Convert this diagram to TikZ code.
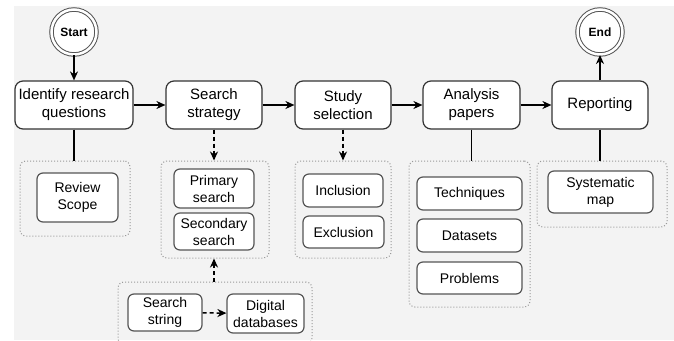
\documentclass[tikz,border=0pt]{standalone}
\usepackage{fontspec}
\setmainfont{Liberation Sans}
\usetikzlibrary{arrows.meta}
\definecolor{bgfill}{HTML}{F3F3F3}
\definecolor{boxline}{HTML}{333333}
\definecolor{subline}{HTML}{555555}
\definecolor{grpline}{HTML}{999999}

\begin{document}
\begin{tikzpicture}[x=1pt,y=-1pt,>={Stealth[length=9pt,width=8pt]},
  phase/.style={draw=boxline,line width=1.2pt,fill=white,rounded corners=8pt,align=center,
    font=\fontsize{15}{18}\selectfont,minimum height=48pt,inner sep=2pt},
  item/.style={draw=subline,line width=1.2pt,fill=white,rounded corners=6pt,align=center,
    font=\fontsize{14}{17}\selectfont,inner sep=1pt},
  grp/.style={draw=grpline,line width=1pt,dotted,rounded corners=6pt},
  term/.style={circle,draw=subline,line width=1pt,double=white,double distance=2.5pt,fill=white,
    minimum size=45pt,font=\fontsize{12}{14}\selectfont\bfseries},
  flow/.style={->,line width=1.5pt},
  link/.style={line width=1.5pt},
  hint/.style={->,line width=1.5pt,dash pattern=on 4pt off 3pt}]
  \useasboundingbox (0,0) rectangle (674,340);
  \fill[bgfill] (14,6) rectangle (674,340);

  % groups
  \node[grp,minimum width=110pt,minimum height=75pt] (G1) at (75,198.5) {};
  \node[grp,minimum width=108pt,minimum height=97pt] (G2) at (215,209.5) {};
  \node[grp,minimum width=194pt,minimum height=62pt] (G3) at (215,313) {};
  \node[grp,minimum width=96pt,minimum height=97pt] (G4) at (343,209.5) {};
  \node[grp,minimum width=121pt,minimum height=146pt] (G5) at (469.5,234) {};
  \node[grp,minimum width=130pt,minimum height=66pt] (G6) at (602,194) {};

  % main phases
  \node[term] (start) at (74,32) {Start};
  \node[term] (end) at (600,32) {End};
  \node[phase,minimum width=118pt] (RQ) at (74,105) {Identify research\\questions};
  \node[phase,minimum width=96pt] (SS) at (214,105) {Search\\strategy};
  \node[phase,minimum width=96pt] (SEL) at (343,105) {Study\\selection};
  \node[phase,minimum width=97pt] (AP) at (471.5,105) {Analysis\\papers};
  \node[phase,minimum width=96pt] (REP) at (600,105) {Reporting};

  % items
  \node[item,minimum width=81pt,minimum height=49pt] (scope) at (77.5,197.5) {Review\\Scope};
  \node[item,minimum width=80pt,minimum height=39pt] (prim) at (214,188.5) {Primary\\search};
  \node[item,minimum width=80pt,minimum height=37pt] (sec) at (214,231.5) {Secondary\\search};
  \node[item,minimum width=74pt,minimum height=37pt] (str) at (165,312.5) {Search\\string};
  \node[item,minimum width=77pt,minimum height=39pt] (db) at (265.5,313.5) {Digital\\databases};
  \node[item,minimum width=80pt,minimum height=33pt] (inc) at (343,190.5) {Inclusion};
  \node[item,minimum width=81pt,minimum height=32pt] (exc) at (343.5,232) {Exclusion};
  \node[item,minimum width=105pt,minimum height=33pt] (tech) at (469.5,193.5) {Techniques};
  \node[item,minimum width=105pt,minimum height=33pt] (data) at (469.5,235.5) {Datasets};
  \node[item,minimum width=105pt,minimum height=32pt] (prob) at (469.5,278) {Problems};
  \node[item,minimum width=105pt,minimum height=42pt] (map) at (600.5,192) {Systematic\\map};

  % flow
  \draw[flow] (start) -- (RQ);
  \draw[flow] (RQ) -- (SS);
  \draw[flow] (SS) -- (SEL);
  \draw[flow] (SEL) -- (AP);
  \draw[flow] (AP) -- (REP);
  \draw[flow] (REP) -- (end);
  \draw[link] (RQ.south) -- (RQ.south |- G1.north);
  \draw[link] (AP.south) -- (AP.south |- G5.north);
  \draw[link] (REP.south) -- (REP.south |- G6.north);
  \draw[hint] (SS.south) -- (SS.south |- G2.north);
  \draw[hint] (SEL.south) -- (SEL.south |- G4.north);
  \draw[hint] (SS.south |- G3.north) -- (SS.south |- G2.south);
  \draw[hint] (str) -- (db);
\end{tikzpicture}
\end{document}
